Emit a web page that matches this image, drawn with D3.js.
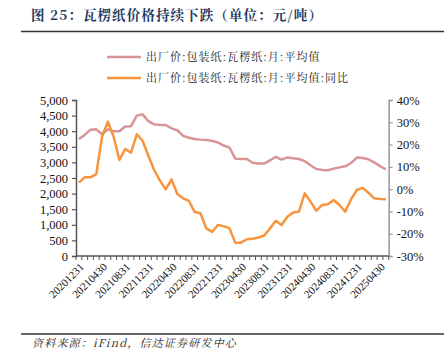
<!DOCTYPE html>
<html><head><meta charset="utf-8">
<script src="https://cdn.jsdelivr.net/npm/d3@7"></script>
<style>
html,body{margin:0;padding:0;background:#fff;}
svg{display:block;}
</style></head>
<body>
<svg id="chart" width="445" height="354"></svg>
<script>
const labels = ["20201231","20210131","20210228","20210331","20210430","20210531","20210630","20210731","20210831","20210930","20211031","20211130","20211231",
"20220131","20220228","20220331","20220430","20220531","20220630","20220731","20220831","20220930","20221031","20221130","20221231",
"20230131","20230228","20230331","20230430","20230531","20230630","20230731","20230831","20230930","20231031","20231130","20231231",
"20240131","20240229","20240331","20240430","20240531","20240630","20240731","20240831","20240930","20241031","20241130","20241231",
"20250131","20250228","20250331","20250430","20250531"];
const tickLabels = ["20201231","20210430","20210831","20211231","20220430","20220831","20221231","20230430","20230831","20231231","20240430","20240831","20241231","20250430"];
const price = [3750,3880,4050,4060,3900,4060,4000,4000,4150,4160,4500,4540,4320,4220,4200,4200,4090,4030,3850,3790,3750,3730,3720,3690,3640,3540,3474,3121,3110,3110,2990,2962,2962,3067,3180,3090,3160,3130,3110,3040,2907,2790,2760,2747,2800,2840,2875,2981,3154,3141,3100,3000,2880,2780];
const yoy = [2.9,5.3,5.3,6.7,23.5,30.3,23.5,13.1,18.0,16.4,24.6,21.7,15.0,8.6,3.8,-0.1,4.4,-2.2,-4.1,-5.3,-10.3,-10.8,-17.6,-19.2,-16.1,-16.6,-17.6,-24.0,-24.0,-22.5,-22.3,-21.7,-20.8,-17.6,-14.2,-16.1,-12.4,-10.5,-10.1,-1.9,-5.6,-9.7,-7.1,-6.8,-4.9,-7.1,-10.1,-4.5,-0.4,0.6,-1.6,-4.1,-4.4,-4.5];
const leftTicks = [0,500,1000,1500,2000,2500,3000,3500,4000,4500,5000];
const rightTicks = [-30,-20,-10,0,10,20,30,40];
const seriesNames = ["出厂价:包装纸:瓦楞纸:月:平均值","出厂价:包装纸:瓦楞纸:月:平均值:同比"];
const title = "图 25：瓦楞纸价格持续下跌（单位：元/吨）";
const source = "资料来源：iFind，信达证券研发中心";

const svg = d3.select("#chart");
const L = 76, R = 388.7, T = 100, B = 256;
const serif = "'Liberation Serif','Times New Roman',serif";
const cjkSerif = "'Noto Serif CJK SC','Noto Sans CJK SC',serif";

const x = d3.scaleBand().domain(labels).range([L, R]);
const yL = d3.scaleLinear().domain([0,5000]).range([B, T]);
const yR = d3.scaleLinear().domain([-30,40]).range([B, T]);

// title
svg.append("text").attr("x",31).attr("y",20).text(title)
  .attr("font-family",cjkSerif).attr("font-weight","bold").attr("font-size",13.5)
  .attr("letter-spacing",1.1).attr("fill","#1f3a60");
svg.append("line").attr("x1",21).attr("x2",444).attr("y1",31.5).attr("y2",31.5).attr("stroke","#333").attr("stroke-width",1.3);

// legend
const colors = ["#d99595","#f7953f"];
seriesNames.forEach((n,i)=>{
  const ly = 57 + i*21;
  svg.append("line").attr("x1",107).attr("x2",141).attr("y1",ly).attr("y2",ly).attr("stroke",colors[i]).attr("stroke-width",2.5);
  svg.append("text").attr("x",146).attr("y",ly+4).text(n).attr("font-family",cjkSerif).attr("font-size",11)
    .attr("letter-spacing",1).attr("fill","#222");
});

// left axis
const gL = svg.append("g").attr("transform",`translate(${L},0)`)
  .call(d3.axisLeft(yL).tickValues(leftTicks).tickSize(4).tickPadding(4).tickFormat(d3.format(",")));
gL.select(".domain").attr("stroke","#555").attr("stroke-width",1.5);
gL.selectAll(".tick line").attr("stroke","#555").attr("stroke-width",1.2);
gL.selectAll("text").attr("font-family",serif).attr("font-size",12.5).attr("fill","#111");

// right axis
const gR = svg.append("g").attr("transform",`translate(${R},0)`)
  .call(d3.axisRight(yR).tickValues(rightTicks).tickSize(4).tickPadding(4).tickFormat(d=>d+"%"));
gR.select(".domain").attr("stroke","#999").attr("stroke-width",1.5);
gR.selectAll(".tick line").attr("stroke","#999").attr("stroke-width",1.2);
gR.selectAll("text").attr("font-family",serif).attr("font-size",12.5).attr("fill","#111");

// bottom axis: ticks between categories
const gB = svg.append("g");
gB.append("line").attr("x1",L).attr("x2",R).attr("y1",B).attr("y2",B).attr("stroke","#555").attr("stroke-width",1.5);
const bounds = labels.map(d=>x(d)).concat([R]);
gB.selectAll("line.t").data(bounds).enter().append("line").attr("class","t")
  .attr("x1",d=>d).attr("x2",d=>d).attr("y1",B).attr("y2",B+4).attr("stroke","#555").attr("stroke-width",1);
gB.selectAll("text").data(tickLabels).enter().append("text")
  .attr("transform",d=>`translate(${x(d)+x.bandwidth()/2+3},${B+9}) rotate(-45)`)
  .attr("text-anchor","end").attr("dy","0.35em").text(d=>d)
  .attr("font-family",serif).attr("font-size",11).attr("fill","#111");

// lines
const lineL = d3.line().x((d,i)=>x(labels[i])+x.bandwidth()/2).y(d=>yL(d));
const lineR = d3.line().x((d,i)=>x(labels[i])+x.bandwidth()/2).y(d=>yR(d));
svg.append("path").datum(price).attr("d",lineL).attr("fill","none").attr("stroke",colors[0]).attr("stroke-width",2.5).attr("stroke-linejoin","round");
svg.append("path").datum(yoy).attr("d",lineR).attr("fill","none").attr("stroke",colors[1]).attr("stroke-width",2.5).attr("stroke-linejoin","round");

// footer
svg.append("line").attr("x1",21).attr("x2",444).attr("y1",334).attr("y2",334).attr("stroke","#333").attr("stroke-width",1.3);
svg.append("text").attr("x",32).attr("y",347).text(source)
  .attr("font-family",cjkSerif).attr("font-style","italic").attr("font-size",11)
  .attr("letter-spacing",1.2).attr("fill","#222");
</script>
</body></html>
